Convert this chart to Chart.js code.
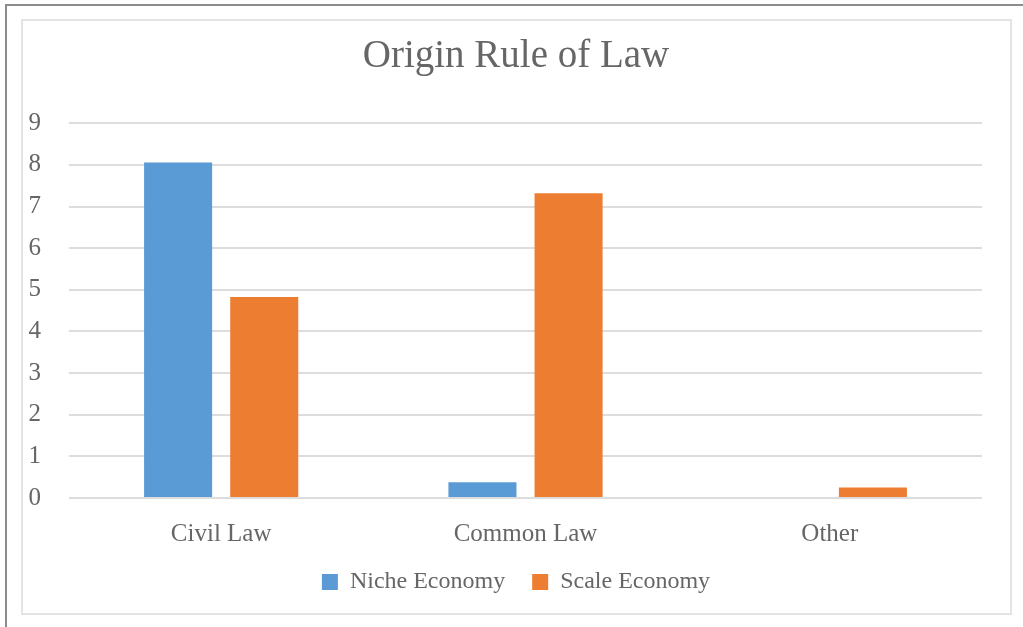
<!DOCTYPE html>
<html>
<head>
<meta charset="utf-8">
<script src="https://cdn.jsdelivr.net/npm/chart.js@4"></script>
<style>
  body { margin: 0; background: #fff; }
  #outer { position: absolute; left: 5px; top: 4px; width: 1030px; height: 640px;
           border-top: 2px solid #8c8c8c; border-left: 2px solid #8c8c8c; }
  #inner { position: absolute; left: 21px; top: 19px; width: 987px; height: 592px;
           border: 2px solid #e4e4e4; }
  #chart { position: absolute; left: 0; top: 0; }
</style>
</head>
<body>
<div id="outer"></div>
<div id="inner"></div>
<canvas id="chart" width="1023" height="627"></canvas>
<script>
// chart data
const categories = ["Civil Law", "Common Law", "Other"];
const nicheEconomy = [8.06, 0.38, 0];
const scaleEconomy = [4.83, 7.32, 0.25];
const yTicks = [0, 1, 2, 3, 4, 5, 6, 7, 8, 9];

const textColor = "#666666";
const serif = "'Liberation Serif', 'Times New Roman', serif";

const ctx = document.getElementById("chart").getContext("2d");
const myChart = new Chart(ctx, {
  type: "bar",
  data: {
    labels: categories,
    datasets: [
      {
        label: "Niche Economy",
        data: nicheEconomy,
        backgroundColor: "#5B9BD5",
        categoryPercentage: 0.566,
        barPercentage: 0.79,
      },
      {
        label: "Scale Economy",
        data: scaleEconomy,
        backgroundColor: "#ED7D31",
        categoryPercentage: 0.566,
        barPercentage: 0.79,
      },
    ],
  },
  options: {
    responsive: false,
    animation: false,
    // left/right kept symmetric to the frame so title and legend centre on it
    layout: { padding: { left: 21, right: 12, top: 0, bottom: 23 } },
    plugins: {
      title: {
        display: true,
        text: "Origin Rule of Law",
        color: textColor,
        font: { family: serif, size: 39, weight: "normal" },
        padding: { top: 33, bottom: 43.5 },
      },
      legend: {
        position: "bottom",
        labels: {
          color: textColor,
          font: { family: serif, size: 24 },
          boxWidth: 16,
          boxHeight: 16,
          padding: 27,
        },
      },
      tooltip: { enabled: false },
    },
    scales: {
      x: {
        grid: { display: false, drawTicks: false },
        border: { display: false },
        ticks: { color: textColor, font: { family: serif, size: 25 }, padding: 21 },
        afterFit: (scale) => {
          scale.height = 45;
        },
      },
      y: {
        min: 0,
        max: 9,
        afterBuildTicks: (axis) => {
          axis.ticks = yTicks.map((v) => ({ value: v }));
        },
        grid: { color: "#dddddd", lineWidth: 2, drawTicks: false },
        border: { display: false },
        ticks: { color: textColor, font: { family: serif, size: 25 }, padding: 28 },
        afterFit: (scale) => {
          scale.width = 48;
        },
      },
      // empty spacer on the right
      y2: {
        position: "right",
        grid: { display: false, drawTicks: false },
        border: { display: false },
        ticks: { display: false },
        afterFit: (scale) => {
          scale.width = 29;
        },
      },
    },
  },
});
</script>
</body>
</html>
